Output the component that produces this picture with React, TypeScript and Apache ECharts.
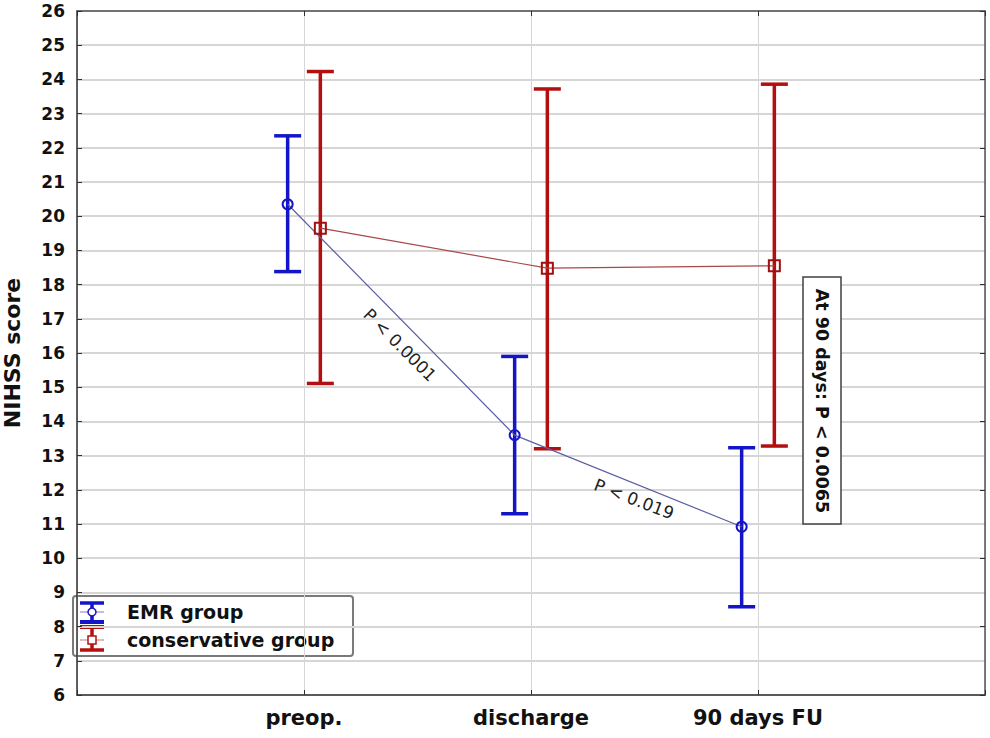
import React, { useEffect, useRef } from "react";
import * as echarts from "echarts";

const categories = ["preop.", "discharge", "90 days FU"];
const emrMean = [20.35, 13.6, 10.92];
const emrLow = [18.38, 11.3, 8.58];
const emrHigh = [22.35, 15.9, 13.23];
const consMean = [19.65, 18.48, 18.55];
const consLow = [15.11, 13.2, 13.28];
const consHigh = [24.23, 23.72, 23.86];
const yTicks = { min: 6, max: 26, interval: 1 };

const EMR_OFFSET = -0.072;
const CONS_OFFSET = 0.072;
const FONT = "DejaVu Sans, Verdana, sans-serif";

function errorBars(low: number[], high: number[], offset: number, color: string) {
  return {
    type: "custom",
    z: 2,
    silent: true,
    data: categories.map((_, i) => [i + 1 + offset, low[i], high[i]]),
    encode: { x: 0, y: [1, 2] },
    renderItem: (params: any, api: any) => {
      const x = api.value(0);
      const pH = api.coord([x, api.value(2)]);
      const pL = api.coord([x, api.value(1)]);
      const hw = 13.5;
      const st = { stroke: color, lineWidth: 3.5 };
      return {
        type: "group",
        children: [
          { type: "line", shape: { x1: pH[0], y1: pH[1], x2: pL[0], y2: pL[1] }, style: st },
          { type: "line", shape: { x1: pH[0] - hw, y1: pH[1], x2: pH[0] + hw, y2: pH[1] }, style: st },
          { type: "line", shape: { x1: pL[0] - hw, y1: pL[1], x2: pL[0] + hw, y2: pL[1] }, style: st },
        ],
      };
    },
  };
}

export default function App() {
  const ref = useRef<HTMLDivElement>(null);
  useEffect(() => {
    document.body.style.margin = "0";
    const chart = echarts.init(ref.current!, null, { renderer: "svg" });
    const xLabel = (v: number) => {
      const i = Math.round(v) - 1;
      return Math.abs(v - Math.round(v)) < 1e-6 && i >= 0 && i < categories.length ? categories[i] : "";
    };
    const blue = "#1414c8";
    const red = "#b40f0f";
    chart.setOption({
      animation: false,
      backgroundColor: "#ffffff",
      grid: { left: 77, top: 11, right: 5, bottom: 43, containLabel: false, outerBoundsMode: "none" },
      xAxis: [
        {
          type: "value",
          min: 0,
          max: 4,
          interval: 1,
          axisLine: { show: true, lineStyle: { color: "#303030", width: 1.5 } },
          axisTick: { show: true, inside: true, length: 5, lineStyle: { color: "#303030" } },
          axisLabel: {
            formatter: xLabel,
            color: "#111",
            fontFamily: FONT,
            fontWeight: "bold",
            fontSize: 21,
            margin: 12,
          },
          splitLine: { show: true, lineStyle: { color: "#d6d6d6", width: 1 } },
        },
        {
          type: "value",
          position: "top",
          min: 0,
          max: 4,
          interval: 1,
          axisLine: { show: true, onZero: false, lineStyle: { color: "#505050", width: 1.5 } },
          axisTick: { show: true, inside: true, length: 5, lineStyle: { color: "#303030" } },
          axisLabel: { show: false },
          splitLine: { show: false },
        },
      ],
      yAxis: [
        {
          type: "value",
          min: yTicks.min,
          max: yTicks.max,
          interval: yTicks.interval,
          name: "NIHSS score",
          nameLocation: "middle",
          nameGap: 54,
          nameTextStyle: { color: "#111", fontFamily: FONT, fontWeight: "bold", fontSize: 22 },
          axisLine: { show: true, lineStyle: { color: "#303030", width: 1.5 } },
          axisTick: { show: true, inside: true, length: 5, lineStyle: { color: "#303030" } },
          axisLabel: { color: "#111", fontFamily: FONT, fontWeight: "bold", fontSize: 17, margin: 12 },
          splitLine: { show: true, lineStyle: { color: "#d6d6d6", width: 2 } },
        },
        {
          type: "value",
          position: "right",
          min: yTicks.min,
          max: yTicks.max,
          interval: 2,
          axisLine: { show: true, onZero: false, lineStyle: { color: "#505050", width: 1.5 } },
          axisTick: { show: true, inside: true, length: 5, lineStyle: { color: "#303030" } },
          axisLabel: { show: false },
          splitLine: { show: false },
        },
      ],
      series: [
        errorBars(emrLow, emrHigh, EMR_OFFSET, blue),
        errorBars(consLow, consHigh, CONS_OFFSET, red),
        {
          type: "line",
          name: "EMR group",
          z: 3,
          data: categories.map((_, i) => [i + 1 + EMR_OFFSET, emrMean[i]]),
          symbol: "circle",
          symbolSize: 10,
          lineStyle: { color: "#5c5ca4", width: 1.2 },
          itemStyle: { color: "rgba(255,255,255,0)", borderColor: blue, borderWidth: 2 },
        },
        {
          type: "line",
          name: "conservative group",
          z: 3,
          data: categories.map((_, i) => [i + 1 + CONS_OFFSET, consMean[i]]),
          symbol: "rect",
          symbolSize: 11,
          lineStyle: { color: "#a84848", width: 1.2 },
          itemStyle: { color: "rgba(255,255,255,0)", borderColor: "#a01010", borderWidth: 2 },
        },
      ],
      graphic: [
        {
          type: "text",
          x: 400,
          y: 345,
          z: 100,
          rotation: -Math.PI / 4,
          style: {
            text: "P < 0.0001",
            fill: "#222",
            font: `17px ${FONT}`,
            align: "center",
            verticalAlign: "middle",
          },
        },
        {
          type: "text",
          x: 634,
          y: 499,
          z: 100,
          rotation: -(21 * Math.PI) / 180,
          style: {
            text: "P < 0.019",
            fill: "#222",
            font: `17px ${FONT}`,
            align: "center",
            verticalAlign: "middle",
          },
        },
        {
          type: "rect",
          z: 100,
          shape: { x: 803, y: 277, width: 38, height: 247 },
          style: { fill: "#fff", stroke: "#404040", lineWidth: 1.5 },
        },
        {
          type: "text",
          x: 822,
          y: 401,
          z: 101,
          rotation: -Math.PI / 2,
          style: {
            text: "At 90 days: P < 0.0065",
            fill: "#111",
            font: `bold 17.5px ${FONT}`,
            align: "center",
            verticalAlign: "middle",
          },
        },
        {
          type: "group",
          z: 100,
          children: [
            {
              type: "rect",
              shape: { x: 73, y: 596, width: 280, height: 60, r: 3 },
              style: { fill: "#fff", stroke: "#7a7a7a", lineWidth: 2 },
            },
            // EMR icon
            { type: "line", shape: { x1: 80, y1: 603, x2: 104, y2: 603 }, style: { stroke: blue, lineWidth: 3.5 } },
            { type: "line", shape: { x1: 92, y1: 603, x2: 92, y2: 622 }, style: { stroke: blue, lineWidth: 3.5 } },
            { type: "line", shape: { x1: 80, y1: 622, x2: 104, y2: 622 }, style: { stroke: blue, lineWidth: 4 } },
            { type: "line", shape: { x1: 80, y1: 612, x2: 104, y2: 612 }, style: { stroke: "#8080c8", lineWidth: 1 } },
            { type: "circle", shape: { cx: 92, cy: 612, r: 4 }, style: { fill: "#fff", stroke: blue, lineWidth: 1.5 } },
            // conservative icon
            { type: "line", shape: { x1: 80, y1: 627, x2: 104, y2: 627 }, style: { stroke: red, lineWidth: 4 } },
            { type: "line", shape: { x1: 92, y1: 627, x2: 92, y2: 650 }, style: { stroke: red, lineWidth: 3.5 } },
            { type: "line", shape: { x1: 80, y1: 650, x2: 104, y2: 650 }, style: { stroke: red, lineWidth: 3.5 } },
            { type: "line", shape: { x1: 80, y1: 640, x2: 104, y2: 640 }, style: { stroke: "#c87878", lineWidth: 1 } },
            { type: "rect", shape: { x: 88, y: 636, width: 8, height: 8 }, style: { fill: "#fff", stroke: red, lineWidth: 1.5 } },
            {
              type: "text",
              x: 127,
              y: 612,
              style: { text: "EMR group", fill: "#111", font: `bold 19px ${FONT}`, verticalAlign: "middle" },
            },
            {
              type: "text",
              x: 127,
              y: 640,
              style: { text: "conservative group", fill: "#111", font: `bold 19px ${FONT}`, verticalAlign: "middle" },
            },
          ],
        },
      ],
    });
    return () => chart.dispose();
  }, []);
  return <div ref={ref} style={{ width: 990, height: 738 }} />;
}
